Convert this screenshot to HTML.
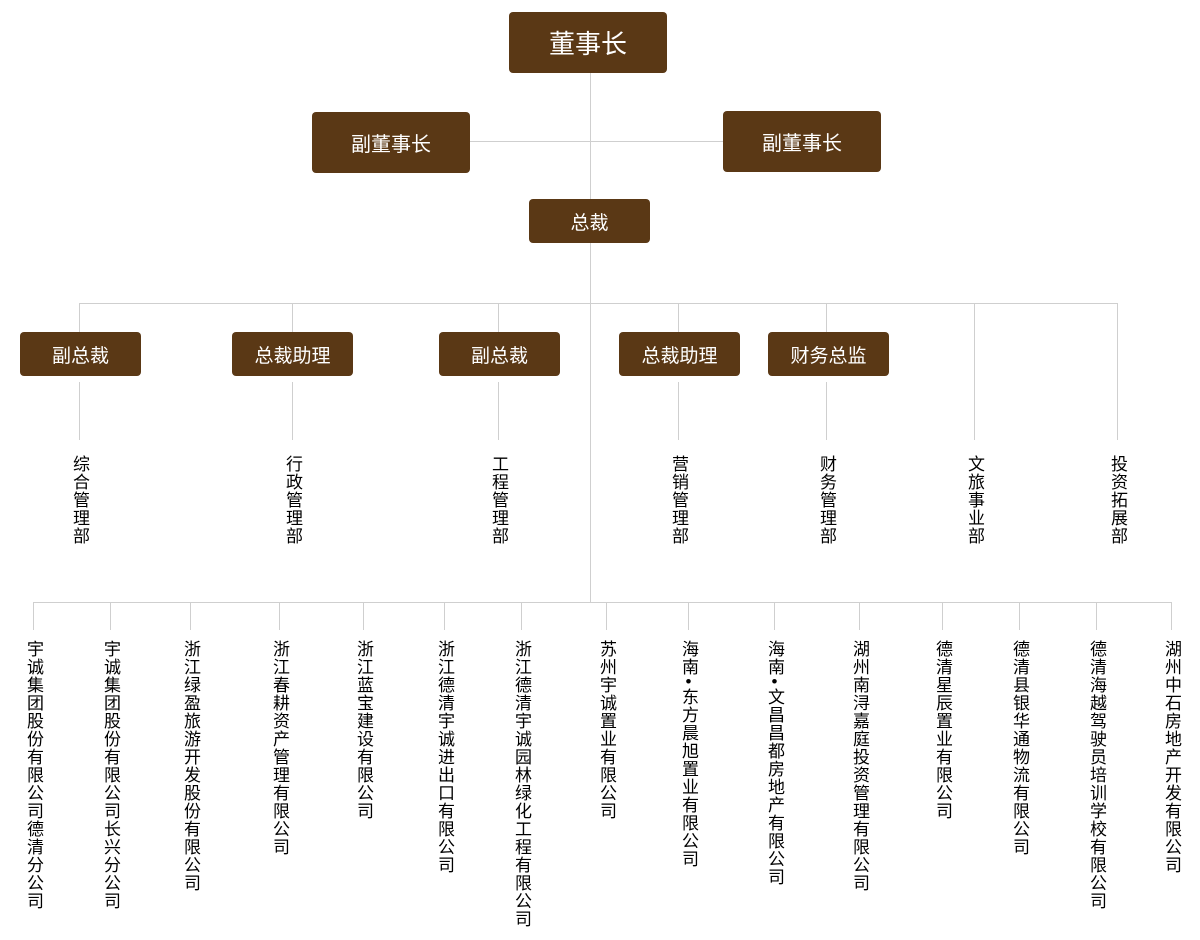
<!DOCTYPE html>
<html><head><meta charset="utf-8"><style>
body{margin:0;width:1200px;height:940px;background:#fff;position:relative;overflow:hidden;font-family:"Liberation Sans","Noto Sans CJK SC",sans-serif}
.b{position:absolute;background:#5a3815;color:#fff;border-radius:4px;display:flex;align-items:center;justify-content:center}
.h{position:absolute;height:1px;background:#cfcfcf}
.v{position:absolute;width:1px;background:#cfcfcf}
.t{position:absolute;writing-mode:vertical-rl;text-orientation:upright;font-size:17px;letter-spacing:1px;color:#000;line-height:18px;width:18px}
.d{margin-inline:-4px}
</style></head><body>
<div class="v" style="left:590px;top:72px;height:530px"></div>
<div class="h" style="left:470px;top:141px;width:253px"></div>
<div class="b" style="left:509px;top:12px;width:158px;height:61px;font-size:26px">董事长</div>
<div class="b" style="left:312px;top:112px;width:158px;height:61px;font-size:20px">副董事长</div>
<div class="b" style="left:723px;top:111px;width:158px;height:61px;font-size:20px">副董事长</div>
<div class="b" style="left:529px;top:199px;width:121px;height:44px;font-size:19px">总裁</div>

<div class="h" style="left:79px;top:303px;width:1039px"></div>
<div class="v" style="left:79px;top:303px;height:29px"></div>
<div class="v" style="left:292px;top:303px;height:29px"></div>
<div class="v" style="left:498px;top:303px;height:29px"></div>
<div class="v" style="left:678px;top:303px;height:29px"></div>
<div class="v" style="left:826px;top:303px;height:29px"></div>
<div class="v" style="left:974px;top:303px;height:137px"></div>
<div class="v" style="left:1117px;top:303px;height:137px"></div>

<div class="b" style="left:20px;top:332px;width:121px;height:44px;font-size:19px">副总裁</div>
<div class="b" style="left:232px;top:332px;width:121px;height:44px;font-size:19px">总裁助理</div>
<div class="b" style="left:439px;top:332px;width:121px;height:44px;font-size:19px">副总裁</div>
<div class="b" style="left:619px;top:332px;width:121px;height:44px;font-size:19px">总裁助理</div>
<div class="b" style="left:768px;top:332px;width:121px;height:44px;font-size:19px">财务总监</div>

<div class="v" style="left:79px;top:382px;height:58px"></div>
<div class="v" style="left:292px;top:382px;height:58px"></div>
<div class="v" style="left:498px;top:382px;height:58px"></div>
<div class="v" style="left:678px;top:382px;height:58px"></div>
<div class="v" style="left:826px;top:382px;height:58px"></div>

<div class="t" style="left:70px;top:455px">综合管理部</div>
<div class="t" style="left:283px;top:455px">行政管理部</div>
<div class="t" style="left:489px;top:455px">工程管理部</div>
<div class="t" style="left:669px;top:455px">营销管理部</div>
<div class="t" style="left:817px;top:455px">财务管理部</div>
<div class="t" style="left:965px;top:455px">文旅事业部</div>
<div class="t" style="left:1108px;top:455px">投资拓展部</div>

<div class="h" style="left:33px;top:602px;width:1139px"></div>
<div class="v" style="left:33px;top:602px;height:28px"></div>
<div class="v" style="left:110px;top:602px;height:28px"></div>
<div class="v" style="left:190px;top:602px;height:28px"></div>
<div class="v" style="left:279px;top:602px;height:28px"></div>
<div class="v" style="left:363px;top:602px;height:28px"></div>
<div class="v" style="left:444px;top:602px;height:28px"></div>
<div class="v" style="left:521px;top:602px;height:28px"></div>
<div class="v" style="left:606px;top:602px;height:28px"></div>
<div class="v" style="left:688px;top:602px;height:28px"></div>
<div class="v" style="left:774px;top:602px;height:28px"></div>
<div class="v" style="left:859px;top:602px;height:28px"></div>
<div class="v" style="left:942px;top:602px;height:28px"></div>
<div class="v" style="left:1019px;top:602px;height:28px"></div>
<div class="v" style="left:1096px;top:602px;height:28px"></div>
<div class="v" style="left:1171px;top:602px;height:28px"></div>

<div class="t" style="left:24px;top:640px">宇诚集团股份有限公司德清分公司</div>
<div class="t" style="left:101px;top:640px">宇诚集团股份有限公司长兴分公司</div>
<div class="t" style="left:181px;top:640px">浙江绿盈旅游开发股份有限公司</div>
<div class="t" style="left:270px;top:640px">浙江春耕资产管理有限公司</div>
<div class="t" style="left:354px;top:640px">浙江蓝宝建设有限公司</div>
<div class="t" style="left:435px;top:640px">浙江德清宇诚进出口有限公司</div>
<div class="t" style="left:512px;top:640px">浙江德清宇诚园林绿化工程有限公司</div>
<div class="t" style="left:597px;top:640px">苏州宇诚置业有限公司</div>
<div class="t" style="left:679px;top:640px">海南<span class="d">•</span>东方晨旭置业有限公司</div>
<div class="t" style="left:765px;top:640px">海南<span class="d">•</span>文昌昌都房地产有限公司</div>
<div class="t" style="left:850px;top:640px">湖州南浔嘉庭投资管理有限公司</div>
<div class="t" style="left:933px;top:640px">德清星辰置业有限公司</div>
<div class="t" style="left:1010px;top:640px">德清县银华通物流有限公司</div>
<div class="t" style="left:1087px;top:640px">德清海越驾驶员培训学校有限公司</div>
<div class="t" style="left:1162px;top:640px">湖州中石房地产开发有限公司</div>
</body></html>
